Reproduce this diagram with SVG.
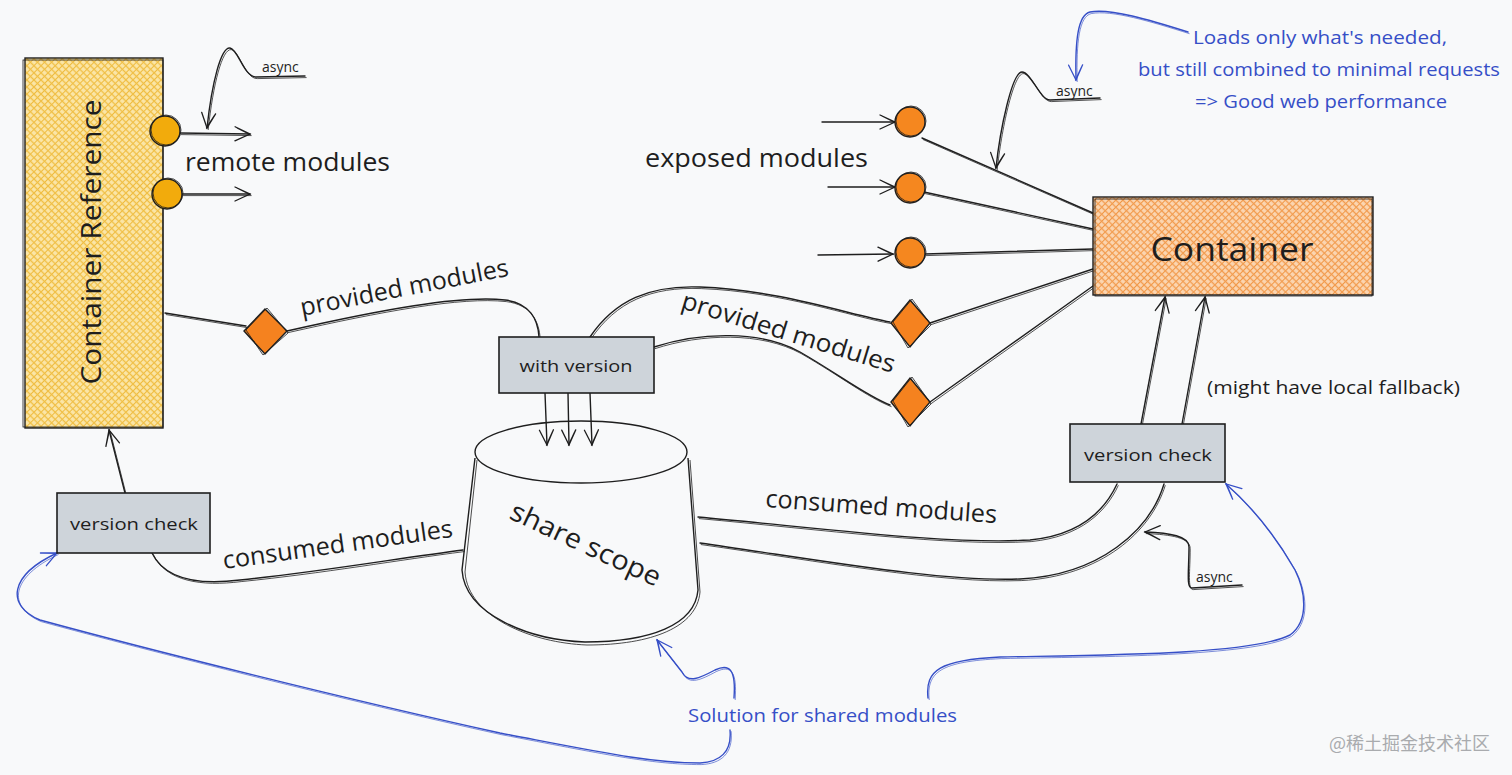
<svg xmlns="http://www.w3.org/2000/svg" xmlns:xlink="http://www.w3.org/1999/xlink" width="1512" height="775" viewBox="0 0 1512 775">
<defs>
<style>
.ln{fill:none;stroke:#1e1e1e;stroke-width:1.4;stroke-linecap:round;stroke-linejoin:round}
.ln2{fill:none;stroke:#1e1e1e;stroke-width:0.9;stroke-linecap:round;opacity:0.85}
.bl{fill:none;stroke:#364fc7;stroke-width:1.4;stroke-linecap:round;stroke-linejoin:round}
.bl2{fill:none;stroke:#364fc7;stroke-width:0.8;stroke-linecap:round;opacity:0.8}
.t{font-family:"Open Sans","Liberation Sans",sans-serif;fill:#1e1e1e}
.tb{font-family:"Open Sans","Liberation Sans",sans-serif;fill:#364fc7}
.box{fill:#ced4da;stroke:#1e1e1e;stroke-width:1.6}
.shape{stroke:#1e1e1e;stroke-width:1.4}
.sk{fill:none;stroke:#1e1e1e;stroke-width:0.8}
</style>
<pattern id="hy" patternUnits="userSpaceOnUse" width="5" height="5" patternTransform="rotate(45)">
<rect width="5" height="5" fill="#fbe6a8"/>
<line x1="0" y1="0" x2="0" y2="5" stroke="#edb42a" stroke-width="1.7"/>
<line x1="0" y1="2.5" x2="5" y2="2.5" stroke="#f0bf45" stroke-width="1.4"/>
</pattern>
<pattern id="ho" patternUnits="userSpaceOnUse" width="5" height="5" patternTransform="rotate(45)">
<rect width="5" height="5" fill="#fbd6b2"/>
<line x1="0" y1="0" x2="0" y2="5" stroke="#f08c30" stroke-width="1.7"/>
<line x1="0" y1="2.5" x2="5" y2="2.5" stroke="#f29c50" stroke-width="1.4"/>
</pattern>
<marker id="arr" viewBox="0 0 20 20" refX="18" refY="10" markerWidth="20" markerHeight="20" markerUnits="userSpaceOnUse" orient="auto">
<path d="M3,3 L18,10 L3,17 M5,4 L18,10.5" fill="none" stroke="#1e1e1e" stroke-width="1.3" stroke-linecap="round"/>
</marker>
<marker id="arrb" viewBox="0 0 20 20" refX="18" refY="10" markerWidth="20" markerHeight="20" markerUnits="userSpaceOnUse" orient="auto">
<path d="M3,3 L18,10 L3,17 M5,4 L18,10.5" fill="none" stroke="#364fc7" stroke-width="1.3" stroke-linecap="round"/>
</marker>
<path id="c1" d="M180,133 L250,134"/>
<path id="c2" d="M182,194 L250,194"/>
<path id="c3" d="M305,76 L256,77 C 244,77 238,49 230,48 C 221,47 212,82 207,128"/>
<path id="c4" d="M822,122 L895,122"/>
<path id="c5" d="M828,187 L895,187"/>
<path id="c6" d="M818,255 L893,254"/>
<path id="c7" d="M922,138 L1093,213"/>
<path id="c8" d="M924,192 L1093,229"/>
<path id="c9" d="M925,254 L1093,249"/>
<path id="c10" d="M1100,98 L1050,100 C 1040,100 1031,72 1022,72 C 1012,72 1000,130 996,168"/>
<path id="c11" d="M1188,32 C 1150,20 1110,8 1090,12 C 1078,15 1075,40 1076,80"/>
<path id="c12" d="M165,313 L246,326"/>
<path id="c13" d="M287,331 C 380,310 460,295 505,300 C 530,303 538,320 539,337"/>
<path id="c14" d="M590,337 C 615,300 650,285 700,287 C 780,290 850,315 890,322"/>
<path id="c15" d="M654,347 C 700,332 760,330 800,352 C 840,375 865,395 890,405"/>
<path id="c16" d="M930,323 L1093,269"/>
<path id="c17" d="M930,402 L1093,286"/>
<path id="c18" d="M545,393 L547,445"/>
<path id="c19" d="M568,393 L569,445"/>
<path id="c20" d="M590,393 L592,445"/>
<path id="c21" d="M698,517 C 820,528 950,545 1030,540 C 1080,535 1105,510 1117,484"/>
<path id="c22" d="M700,543 C 820,560 940,582 1020,579 C 1100,575 1150,530 1164,484"/>
<path id="c23" d="M1141,424 L1165,297"/>
<path id="c24" d="M1182,424 L1205,297"/>
<path id="c25" d="M1242,585 L1192,588 C 1186,588 1189,570 1189,547 C 1189,536 1170,533 1145,532"/>
<path id="c26" d="M125,493 L109,430"/>
<path id="c27" d="M152,553 C 165,580 200,585 240,580 C 320,572 400,558 463,550"/>
<path id="c28" d="M734,698 C 736,670 730,663 715,670 C 700,678 688,684 682,672 L657,640"/>
<path id="c29" d="M928,698 C 925,670 940,660 1000,657 C 1100,655 1250,655 1290,635 C 1310,620 1305,590 1295,570 C 1275,535 1250,505 1226,484"/>
<path id="c30" d="M730,730 C 732,752 720,762 700,763 C 650,763 600,752 500,733 C 350,700 150,650 40,620 C 5,605 10,575 57,553"/>
</defs>

<rect width="1512" height="775" fill="#f8f9fa"/>

<g id="connectors">
<use xlink:href="#c1" href="#c1" class="ln" marker-end="url(#arr)"/>
<use xlink:href="#c2" href="#c2" class="ln" marker-end="url(#arr)"/>
<use xlink:href="#c3" href="#c3" class="ln" marker-end="url(#arr)"/>
<use xlink:href="#c4" href="#c4" class="ln" marker-end="url(#arr)"/>
<use xlink:href="#c5" href="#c5" class="ln" marker-end="url(#arr)"/>
<use xlink:href="#c6" href="#c6" class="ln" marker-end="url(#arr)"/>
<use xlink:href="#c7" href="#c7" class="ln"/>
<use xlink:href="#c8" href="#c8" class="ln"/>
<use xlink:href="#c9" href="#c9" class="ln"/>
<use xlink:href="#c10" href="#c10" class="ln" marker-end="url(#arr)"/>
<use xlink:href="#c11" href="#c11" class="bl" marker-end="url(#arrb)"/>
<use xlink:href="#c12" href="#c12" class="ln"/>
<use xlink:href="#c13" href="#c13" class="ln"/>
<use xlink:href="#c14" href="#c14" class="ln"/>
<use xlink:href="#c15" href="#c15" class="ln"/>
<use xlink:href="#c16" href="#c16" class="ln"/>
<use xlink:href="#c17" href="#c17" class="ln"/>
<use xlink:href="#c18" href="#c18" class="ln" marker-end="url(#arr)"/>
<use xlink:href="#c19" href="#c19" class="ln" marker-end="url(#arr)"/>
<use xlink:href="#c20" href="#c20" class="ln" marker-end="url(#arr)"/>
<use xlink:href="#c21" href="#c21" class="ln"/>
<use xlink:href="#c22" href="#c22" class="ln"/>
<use xlink:href="#c23" href="#c23" class="ln" marker-end="url(#arr)"/>
<use xlink:href="#c24" href="#c24" class="ln" marker-end="url(#arr)"/>
<use xlink:href="#c25" href="#c25" class="ln" marker-end="url(#arr)"/>
<use xlink:href="#c26" href="#c26" class="ln" marker-end="url(#arr)"/>
<use xlink:href="#c27" href="#c27" class="ln"/>
<use xlink:href="#c28" href="#c28" class="bl" marker-end="url(#arrb)"/>
<use xlink:href="#c29" href="#c29" class="bl" marker-end="url(#arrb)"/>
<use xlink:href="#c30" href="#c30" class="bl" marker-end="url(#arrb)"/>
<g transform="translate(1.2,1.6)">
<use xlink:href="#c1" href="#c1" class="ln2"/>
<use xlink:href="#c2" href="#c2" class="ln2"/>
<use xlink:href="#c3" href="#c3" class="ln2"/>
<use xlink:href="#c7" href="#c7" class="ln2"/>
<use xlink:href="#c8" href="#c8" class="ln2"/>
<use xlink:href="#c9" href="#c9" class="ln2"/>
<use xlink:href="#c10" href="#c10" class="ln2"/>
<use xlink:href="#c11" href="#c11" class="bl2"/>
<use xlink:href="#c12" href="#c12" class="ln2"/>
<use xlink:href="#c13" href="#c13" class="ln2"/>
<use xlink:href="#c14" href="#c14" class="ln2"/>
<use xlink:href="#c15" href="#c15" class="ln2"/>
<use xlink:href="#c16" href="#c16" class="ln2"/>
<use xlink:href="#c17" href="#c17" class="ln2"/>
<use xlink:href="#c21" href="#c21" class="ln2"/>
<use xlink:href="#c22" href="#c22" class="ln2"/>
<use xlink:href="#c23" href="#c23" class="ln2"/>
<use xlink:href="#c24" href="#c24" class="ln2"/>
<use xlink:href="#c25" href="#c25" class="ln2"/>
<use xlink:href="#c26" href="#c26" class="ln2"/>
<use xlink:href="#c27" href="#c27" class="ln2"/>
<use xlink:href="#c28" href="#c28" class="bl2"/>
<use xlink:href="#c29" href="#c29" class="bl2"/>
<use xlink:href="#c30" href="#c30" class="bl2"/>
</g>
</g>

<g id="container-reference">
<rect x="25" y="58" width="138" height="370" fill="url(#hy)" class="shape"/>
<rect x="23" y="60" width="140" height="367" class="sk"/>
<text class="t" font-size="28" text-anchor="middle" textLength="285" lengthAdjust="spacingAndGlyphs" transform="translate(101,242) rotate(-90)">Container Reference</text>
</g>

<g id="remote-module-1"><circle cx="165" cy="131" r="15" fill="#f2ab0c" class="shape"/><circle cx="166" cy="130" r="15" class="sk"/></g>
<g id="remote-module-2"><circle cx="167" cy="194" r="15" fill="#f2ab0c" class="shape"/><circle cx="168" cy="193" r="15" class="sk"/></g>

<g id="container">
<rect x="1093" y="197" width="280" height="98" fill="url(#ho)" class="shape"/>
<rect x="1095" y="199" width="277" height="97" class="sk"/>
<text class="t" font-size="33" text-anchor="middle" textLength="163" lengthAdjust="spacingAndGlyphs" x="1232" y="261">Container</text>
</g>

<g id="exposed-module-1"><circle cx="910" cy="122" r="15" fill="#f5871f" class="shape"/><circle cx="911" cy="121" r="15" class="sk"/></g>
<g id="exposed-module-2"><circle cx="910" cy="188" r="15" fill="#f5871f" class="shape"/><circle cx="911" cy="187" r="15" class="sk"/></g>
<g id="exposed-module-3"><circle cx="910" cy="253" r="15" fill="#f5871f" class="shape"/><circle cx="911" cy="252" r="15" class="sk"/></g>

<g id="provided-diamond-left"><path d="M265,309 L287,331 L265,354 L244,331 Z" fill="#f5821f" class="shape"/><path d="M267,308 L288,333 L263,355 L246,330 Z" class="sk"/></g>
<g id="provided-diamond-1"><path d="M910,300 L930,323 L910,347 L891,323 Z" fill="#f5821f" class="shape"/><path d="M912,299 L931,325 L908,348 L893,322 Z" class="sk"/></g>
<g id="provided-diamond-2"><path d="M910,378 L930,402 L910,426 L891,402 Z" fill="#f5821f" class="shape"/><path d="M912,377 L931,404 L908,427 L893,401 Z" class="sk"/></g>

<g id="with-version">
<rect x="499" y="337" width="155" height="56" class="box"/>
<text class="t" font-size="17" text-anchor="middle" textLength="113" lengthAdjust="spacingAndGlyphs" x="576" y="372">with version</text>
</g>

<g id="share-scope">
<path d="M475,458 L462,570 C 465,615 530,640 585,642 C 650,642 695,625 698,590 L688,458" fill="none" class="shape"/>
<path d="M477,460 L465,572 C 468,617 532,643 587,645 C 652,645 697,627 700,592 L690,460" class="sk"/>
<ellipse cx="581" cy="452" rx="106" ry="31" fill="none" class="shape"/>
<text class="t" font-size="27" textLength="163" lengthAdjust="spacingAndGlyphs" transform="translate(508,518) rotate(25)">share scope</text>
</g>

<g id="version-check-right">
<rect x="1070" y="424" width="155" height="58" class="box"/>
<text class="t" font-size="17" text-anchor="middle" textLength="128" lengthAdjust="spacingAndGlyphs" x="1148" y="461">version check</text>
</g>

<g id="version-check-left">
<rect x="57" y="493" width="153" height="60" class="box"/>
<text class="t" font-size="17" text-anchor="middle" textLength="128" lengthAdjust="spacingAndGlyphs" x="134" y="530">version check</text>
</g>

<g id="labels">
<text class="t" font-size="14" x="262" y="72">async</text>
<text class="t" font-size="26" x="185" y="171" textLength="205" lengthAdjust="spacingAndGlyphs">remote modules</text>
<text class="t" font-size="26" x="645" y="167" textLength="223" lengthAdjust="spacingAndGlyphs">exposed modules</text>
<text class="t" font-size="14" x="1056" y="96">async</text>
<text class="t" font-size="25" transform="translate(302,316) rotate(-11)">provided modules</text>
<text class="t" font-size="25" transform="translate(680,308) rotate(17)" textLength="222" lengthAdjust="spacingAndGlyphs">provided modules</text>
<text class="t" font-size="25" transform="translate(765,507) rotate(4)" textLength="232" lengthAdjust="spacingAndGlyphs">consumed modules</text>
<text class="t" font-size="25" transform="translate(224,569) rotate(-8)" textLength="232" lengthAdjust="spacingAndGlyphs">consumed modules</text>
<text class="t" font-size="18" x="1207" y="394" textLength="253" lengthAdjust="spacingAndGlyphs">(might have local fallback)</text>
<text class="t" font-size="14" x="1196" y="582">async</text>
<text class="tb" font-size="19" x="1193" y="44" textLength="254" lengthAdjust="spacingAndGlyphs">Loads only what's needed,</text>
<text class="tb" font-size="19" x="1138" y="76" textLength="362" lengthAdjust="spacingAndGlyphs">but still combined to minimal requests</text>
<text class="tb" font-size="19" x="1195" y="108" textLength="252" lengthAdjust="spacingAndGlyphs">=&gt; Good web performance</text>
<text class="tb" font-size="19" x="688" y="722" textLength="269" lengthAdjust="spacingAndGlyphs">Solution for shared modules</text>
<text font-family="'Noto Sans CJK SC','Noto Sans',sans-serif" font-size="18" fill="#a9abae" x="1329" y="750">@稀土掘金技术社区</text>
</g>
</svg>
